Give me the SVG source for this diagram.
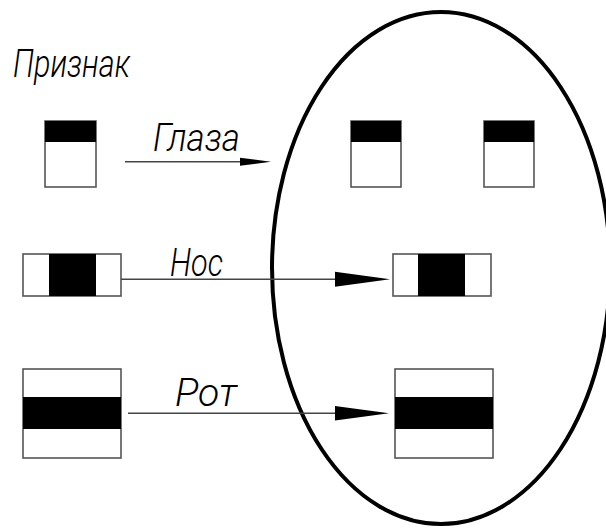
<svg xmlns="http://www.w3.org/2000/svg" width="606" height="528" viewBox="0 0 606 528">
<style>
.box{fill:#fff;stroke:#555;stroke-width:1.6}
.blk{fill:#000;stroke:none}
.lbl{font-family:Roboto,"Liberation Sans",sans-serif;font-style:italic;font-weight:300;font-size:39px;fill:#000}
.ln{stroke:#444;stroke-width:1.6;fill:none}
.ah{fill:#000;stroke:none}
</style>
<rect width="606" height="528" fill="#fff"/>
<g id="set">
<ellipse cx="441" cy="268" rx="169" ry="256" fill="none" stroke="#000" stroke-width="4"/>
</g>
<g id="title"><text class="lbl" x="13" y="77" textLength="117" lengthAdjust="spacingAndGlyphs">Признак</text></g>
<g id="eyes-src">
<rect class="box" x="45" y="121" width="51" height="66"/>
<rect class="blk" x="45" y="121" width="51" height="21"/>
</g>
<g id="eyes-dst1">
<rect class="box" x="351" y="121" width="50" height="66"/>
<rect class="blk" x="351" y="121" width="50" height="21"/>
</g>
<g id="eyes-dst2">
<rect class="box" x="484" y="121" width="50" height="66"/>
<rect class="blk" x="484" y="121" width="50" height="21"/>
</g>
<g id="nose-src">
<rect class="box" x="23" y="254" width="98" height="42"/>
<rect class="blk" x="49" y="254" width="47" height="42"/>
</g>
<g id="nose-dst">
<rect class="box" x="393" y="254" width="98" height="42"/>
<rect class="blk" x="418" y="254" width="47" height="42"/>
</g>
<g id="mouth-src">
<rect class="box" x="23" y="369" width="98" height="89"/>
<rect class="blk" x="23" y="397" width="98" height="32"/>
</g>
<g id="mouth-dst">
<rect class="box" x="395" y="369" width="98" height="89"/>
<rect class="blk" x="395" y="397" width="98" height="32"/>
</g>
<g id="connectors">
<line class="ln" x1="125" y1="161.7" x2="245" y2="161.7"/>
<polygon class="ah" points="240,157.7 271,161.7 240,165.7"/>
<text class="lbl" x="153" y="151" textLength="87" lengthAdjust="spacingAndGlyphs">Глаза</text>
<line class="ln" x1="121" y1="279.3" x2="340" y2="279.3"/>
<polygon class="ah" points="335,271.8 390,279.3 335,286.8"/>
<text class="lbl" x="170" y="276" textLength="53" lengthAdjust="spacingAndGlyphs">Нос</text>
<line class="ln" x1="128" y1="413.3" x2="340" y2="413.3"/>
<polygon class="ah" points="335,406 389,413.3 335,420.6"/>
<text class="lbl" x="175" y="406" textLength="62" lengthAdjust="spacingAndGlyphs">Рот</text>
</g>
</svg>
